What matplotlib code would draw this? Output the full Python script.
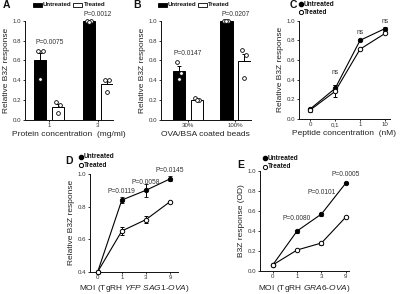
import matplotlib
matplotlib.use("Agg")
import matplotlib.pyplot as plt
import numpy as np
from matplotlib.patches import Rectangle

plt.rcParams['font.family'] = ['Liberation Sans', 'DejaVu Sans']
plt.rcParams['mathtext.fontset'] = 'custom'
plt.rcParams['mathtext.it'] = 'Liberation Sans:italic'
plt.rcParams['mathtext.rm'] = 'Liberation Sans'

# ---------------- data ----------------
A_groups = ["1", "3"]
A_untreated = [0.60, 1.00]
A_treated = [0.13, 0.36]
A_untreated_err = [0.07, 0.0]
A_treated_err = [0.03, 0.04]
A_untreated_pts = [[0.69, 0.69, 0.41], [1.00, 1.00, 0.99]]
A_treated_pts = [[0.18, 0.15, 0.07], [0.40, 0.40, 0.28]]
A_pvals = ["P=0.0075", "P=0.0012"]
A_pval_y = [0.78, 1.06]

B_groups = ["30%", "100%"]
B_untreated = [0.49, 1.00]
B_treated = [0.20, 0.59]
B_untreated_err = [0.05, 0.0]
B_treated_err = [0.01, 0.07]
B_untreated_pts = [[0.58, 0.47, 0.41], [1.00, 1.00, 1.00]]
B_treated_pts = [[0.22, 0.20, 0.20], [0.70, 0.65, 0.42]]
B_pvals = ["P=0.0147", "P=0.0207"]
B_pval_y = [0.67, 1.06]

C_ticks = ["0", "0,1", "1", "10"]
C_untreated = [0.10, 0.31, 0.80, 0.92]
C_treated = [0.09, 0.28, 0.71, 0.87]
C_untreated_err = [0.01, 0.03, 0.01, 0.02]
C_treated_err = [0.02, 0.06, 0.01, 0.01]
C_labels = ["", "ns", "ns", "ns"]
C_label_y = [0, 0.47, 0.88, 0.99]

D_ticks = ["0", "1", "3", "9"]
D_untreated = [0.40, 0.84, 0.90, 0.97]
D_treated = [0.40, 0.65, 0.72, 0.83]
D_untreated_err = [0.0, 0.02, 0.04, 0.015]
D_treated_err = [0.0, 0.025, 0.02, 0.005]
D_pvals = ["", "P=0.0119", "P=0.0058", "P=0.0145"]
D_pval_y = [0, 0.89, 0.947, 1.02]

E_ticks = ["0", "1", "3", "9"]
E_untreated = [0.06, 0.40, 0.57, 0.88]
E_treated = [0.06, 0.21, 0.28, 0.54]
E_untreated_err = [0.0, 0.015, 0.015, 0.0]
E_treated_err = [0.0, 0.0, 0.015, 0.0]
E_pvals = ["", "P=0.0080", "P=0.0101", "P=0.0005"]
E_pval_y = [0, 0.52, 0.78, 0.97]

# ---------------- figure ----------------
W, H = 400, 294
fig = plt.figure(figsize=(4.0, 2.94), dpi=100)
TXT = '#222222'
LAB = 6.0
TICK = 4.4
PV = 4.8
LEG = 4.4


def px(x, y):
    return (x / W, 1 - y / H)


def axes_px(x0, x1, ytop, ybot):
    return fig.add_axes([x0 / W, 1 - ybot / H, (x1 - x0) / W, (ybot - ytop) / H])


def style(ax):
    for s in ['top', 'right']:
        ax.spines[s].set_visible(False)
    for s in ['left', 'bottom']:
        ax.spines[s].set_linewidth(0.7)
        ax.spines[s].set_color('#111111')
    ax.tick_params(labelsize=TICK, length=1.6, width=0.6, pad=0.9,
                   colors='#111111', labelcolor='#333333')


def bar_panel(ax, groups, unt, trt, unt_err, trt_err, unt_pts, trt_pts,
              pvals, pval_y, xlabel, off, bw, xlim):
    x = np.arange(len(groups))
    ax.bar(x - off, unt, bw, color='black', edgecolor='black', linewidth=0.7, zorder=2)
    ax.bar(x + off, trt, bw, color='white', edgecolor='black', linewidth=0.7, zorder=2)
    ax.errorbar(x - off, unt, yerr=[np.zeros(len(x)), unt_err], fmt='none',
                ecolor='black', elinewidth=0.7, capsize=1.5, capthick=0.7, zorder=3)
    ax.errorbar(x + off, trt, yerr=[np.zeros(len(x)), trt_err], fmt='none',
                ecolor='black', elinewidth=0.7, capsize=1.5, capthick=0.7, zorder=3)
    jit = [-0.045, 0.045, 0.0]
    for i in range(len(groups)):
        for j, v in enumerate(unt_pts[i]):
            ax.plot(x[i] - off + jit[j], v, 'o', ms=2.7, mfc='white', mec='black',
                    mew=0.6, zorder=4, clip_on=False)
        for j, v in enumerate(trt_pts[i]):
            ax.plot(x[i] + off + jit[j], v, 'o', ms=2.7, mfc='white', mec='black',
                    mew=0.6, zorder=4, clip_on=False)
        ax.text(x[i], pval_y[i], pvals[i], ha='center', va='center', fontsize=PV,
                color='#333333')
    ax.set_xticks(x)
    ax.set_xticklabels(groups)
    ax.set_xlim(*xlim)
    ax.set_ylim(0, 1.0)
    ax.set_yticks(np.arange(0, 1.01, 0.2))
    ax.set_yticklabels([f"{v:.1f}" for v in np.arange(0, 1.01, 0.2)])
    ax.set_ylabel("Relative B3Z response", fontsize=LAB, color=TXT, labelpad=2)
    ax.set_xlabel(xlabel, fontsize=LAB, color=TXT, labelpad=2.2)
    style(ax)


def line_panel(ax, ticks, unt, trt, unt_err, trt_err, xlim, ylim, yticks,
               ylabel, xlabel):
    x = np.arange(len(ticks))
    ax.errorbar(x, unt, yerr=unt_err, fmt='-o', color='black', ms=3.2, mfc='black',
                mec='black', mew=0.6, lw=0.8, elinewidth=0.7, capsize=1.5,
                capthick=0.7, zorder=3, clip_on=False)
    ax.errorbar(x, trt, yerr=trt_err, fmt='-o', color='black', ms=3.2, mfc='white',
                mec='black', mew=0.7, lw=0.8, elinewidth=0.7, capsize=1.5,
                capthick=0.7, zorder=3, clip_on=False)
    ax.set_xticks(x)
    ax.set_xticklabels(ticks)
    ax.set_xlim(*xlim)
    ax.set_ylim(*ylim)
    ax.set_yticks(yticks)
    ax.set_yticklabels([f"{v:.1f}" for v in yticks])
    ax.set_ylabel(ylabel, fontsize=LAB, color=TXT, labelpad=2)
    ax.set_xlabel(xlabel, fontsize=LAB, color=TXT, labelpad=2.2)
    style(ax)


# Panel A
axA = axes_px(25, 113, 20.7, 119.8)
bar_panel(axA, A_groups, A_untreated, A_treated, A_untreated_err, A_treated_err,
          A_untreated_pts, A_treated_pts, A_pvals, A_pval_y,
          "Protein concentration  (mg/ml)", 0.185, 0.25, (-0.5, 1.31))

# Panel B
axB = axes_px(160.7, 251, 20.7, 119.8)
bar_panel(axB, B_groups, B_untreated, B_treated, B_untreated_err, B_treated_err,
          B_untreated_pts, B_treated_pts, B_pvals, B_pval_y,
          "OVA/BSA coated beads", 0.19, 0.26, (-0.575, 1.33))

# Panel C
axC = axes_px(299, 390, 20.7, 118.8)
line_panel(axC, C_ticks, C_untreated, C_treated, C_untreated_err, C_treated_err,
           (-0.45, 3.2), (0, 1.0), np.arange(0, 1.01, 0.2),
           "Relative B3Z response", "Peptide concentration  (nM)")
for i, t in enumerate(C_labels):
    if t:
        axC.text(i, C_label_y[i], t, ha='center', va='center', fontsize=PV, color='#333333')

# Panel D
axD = axes_px(90, 178, 174, 271.7)
line_panel(axD, D_ticks, D_untreated, D_treated, D_untreated_err, D_treated_err,
           (-0.32, 3.33), (0.4, 1.0), np.arange(0.4, 1.01, 0.2),
           "Relative B3Z response", "MOI (TgRH $\\mathit{YFP\\ SAG1}$-$\\mathit{OVA}$)")
for i, t in enumerate(D_pvals):
    if t:
        axD.text(i, D_pval_y[i], t, ha='center', va='center', fontsize=PV, color='#333333')

# Panel E
axE = axes_px(260, 349.3, 171, 271)
line_panel(axE, E_ticks, E_untreated, E_treated, E_untreated_err, E_treated_err,
           (-0.52, 3.14), (0, 1.0), np.arange(0, 1.01, 0.2),
           "B3Z response (OD)", "MOI (TgRH $\\mathit{GRA6}$-$\\mathit{OVA}$)")
for i, t in enumerate(E_pvals):
    if t:
        axE.text(i, E_pval_y[i], t, ha='center', va='center', fontsize=PV, color='#333333')

# Panel letters
for letter, (lx, ly) in zip("ABCDE", [(3, 5), (133, 5), (290, 5), (65, 161), (237, 165)]):
    fig.text(*px(lx, ly), letter, fontsize=7.5, fontweight='bold', ha='left', va='center',
             color='#111111')

# Bar legends (A, B)
for (bx, tx1, wx, tx2) in [(32.5, 43, 73.3, 84), (158, 168, 198, 208)]:
    fig.patches.append(Rectangle(px(bx, 6.5), 9 / W, 3.8 / H, transform=fig.transFigure,
                                 facecolor='black', edgecolor='black', lw=0.6))
    fig.text(*px(tx1, 4.6), "Untreated", fontsize=LEG, fontweight='bold', ha='left',
             va='center', color='#111111')
    fig.patches.append(Rectangle(px(wx, 6.5), 9 / W, 3.8 / H, transform=fig.transFigure,
                                 facecolor='white', edgecolor='black', lw=0.6))
    fig.text(*px(tx2, 4.6), "Treated", fontsize=LEG, fontweight='bold', ha='left',
             va='center', color='#111111')

# Line legends (C, D, E)
for (mx, my1, my2) in [(301, 4.3, 12.3), (80.7, 156.7, 165.2), (265, 158.3, 166.7)]:
    fig.lines.append(plt.Line2D([mx / W], [1 - my1 / H], marker='o', ms=3.0, mfc='black',
                                mec='black', ls='none', transform=fig.transFigure))
    fig.lines.append(plt.Line2D([mx / W], [1 - my2 / H], marker='o', ms=3.0, mfc='white',
                                mec='black', mew=0.7, ls='none', transform=fig.transFigure))
    fig.text(*px(mx + 3, my1), "Untreated", fontsize=LEG + 0.3, fontweight='bold', ha='left',
             va='center', color='#111111')
    fig.text(*px(mx + 3, my2), "Treated", fontsize=LEG + 0.3, fontweight='bold', ha='left',
             va='center', color='#111111')

fig.savefig("out.png", dpi=100)
